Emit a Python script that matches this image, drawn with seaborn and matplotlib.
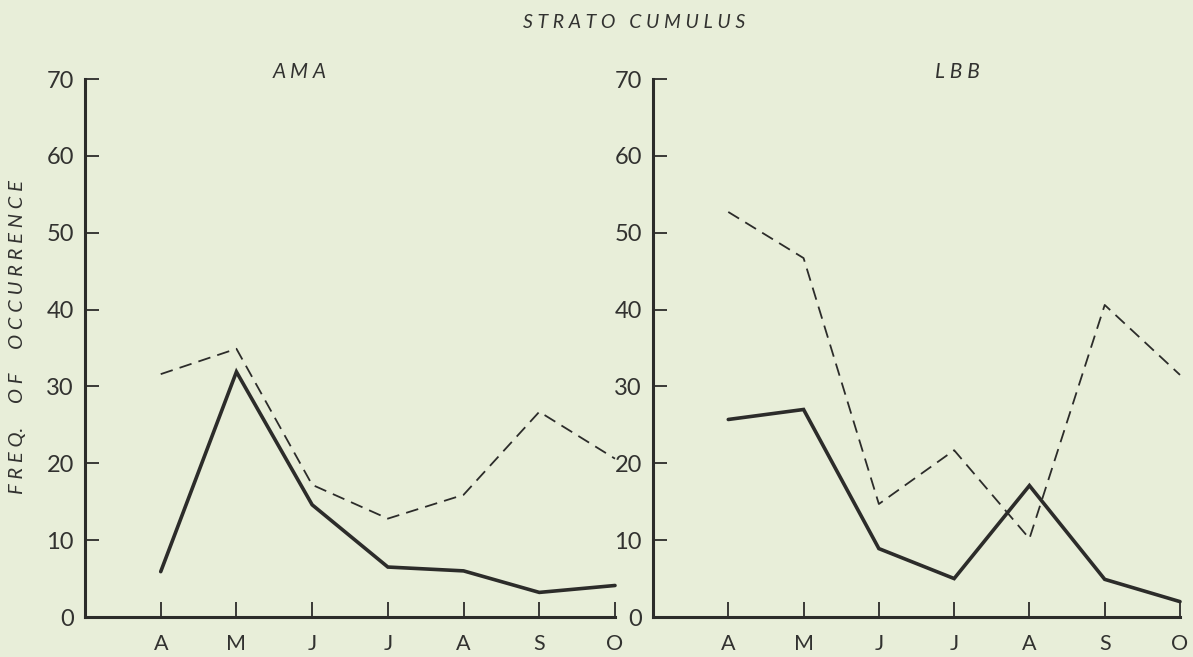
import matplotlib
matplotlib.use("Agg")
import matplotlib.pyplot as plt
import seaborn as sns
import pandas as pd

# Monthly frequency of occurrence (%) of strato cumulus
months = ["A", "M", "J", "J", "A", "S", "O"]
ama_solid = [5.9, 31.9, 14.6, 6.5, 6.0, 3.2, 4.1]
ama_dashed = [31.6, 34.9, 17.2, 12.8, 15.9, 26.7, 20.6]
lbb_solid = [25.7, 27.0, 8.9, 5.0, 17.1, 4.9, 2.0]
lbb_dashed = [52.7, 46.7, 14.7, 21.7, 10.2, 40.6, 31.5]
y_ticks = [0, 10, 20, 30, 40, 50, 60, 70]

paper = "#e8eed9"
ink = "#2c2c2a"
text_ink = "#323230"

sns.set_theme(style="ticks")
plt.rcParams["font.family"] = ["Lato", "DejaVu Sans"]

W, H = 1193, 657
fig = plt.figure(figsize=(W / 100, H / 100), dpi=100, facecolor=paper)

def px_axes(x0, x1, y_top, y_bot):
    return fig.add_axes([x0 / W, 1 - y_bot / H, (x1 - x0) / W, (y_bot - y_top) / H])

ax_l = px_axes(85, 615, 79, 617)
ax_r = px_axes(653, 1180, 79, 617)

pos = list(range(1, len(months) + 1))

for ax, solid, dashed, name, name_x in [
    (ax_l, ama_solid, ama_dashed, "AMA", 300),
    (ax_r, lbb_solid, lbb_dashed, "LBB", 957),
]:
    ax.set_facecolor(paper)
    df = pd.DataFrame({"pos": pos, "solid": solid, "dashed": dashed})
    sns.lineplot(data=df, x="pos", y="dashed", ax=ax, color=ink, linewidth=1.3,
                 linestyle=(0, (7, 4)), clip_on=False)
    sns.lineplot(data=df, x="pos", y="solid", ax=ax, color=ink, linewidth=2.6,
                 solid_joinstyle="miter", clip_on=False)
    ax.set_xlim(0, 7)
    ax.set_ylim(0, 70)
    ax.set_xticks(pos)
    ax.set_xticklabels(months)
    ax.set_yticks(y_ticks)
    ax.set_yticklabels([str(v) for v in y_ticks])
    ax.set_xlabel("")
    ax.set_ylabel("")
    for s in ["top", "right"]:
        ax.spines[s].set_visible(False)
    for s in ["left", "bottom"]:
        ax.spines[s].set_linewidth(2.2)
        ax.spines[s].set_color(ink)
    ax.tick_params(axis="both", direction="in", color=ink, width=1.3,
                   labelcolor=text_ink)
    ax.tick_params(axis="x", length=11, pad=12, labelsize=15.5)
    ax.tick_params(axis="y", length=10, pad=8, labelsize=17)
    fig.text(name_x / W, 1 - 72 / H, "A M A" if name == "AMA" else "L B B",
             ha="center", va="center", fontsize=15, style="italic", color=text_ink)

fig.text(634 / W, 1 - 22 / H, "S T R A T O   C U M U L U S", ha="center",
         va="center", fontsize=14, style="italic", color=text_ink)
fig.text(18 / W, 1 - 337 / H, "F R E Q.     O F     O C C U R R E N C E",
         ha="center", va="center", rotation=90, fontsize=14.5,
         style="italic", color=text_ink)

fig.savefig("out.png", dpi=100, facecolor=paper)
